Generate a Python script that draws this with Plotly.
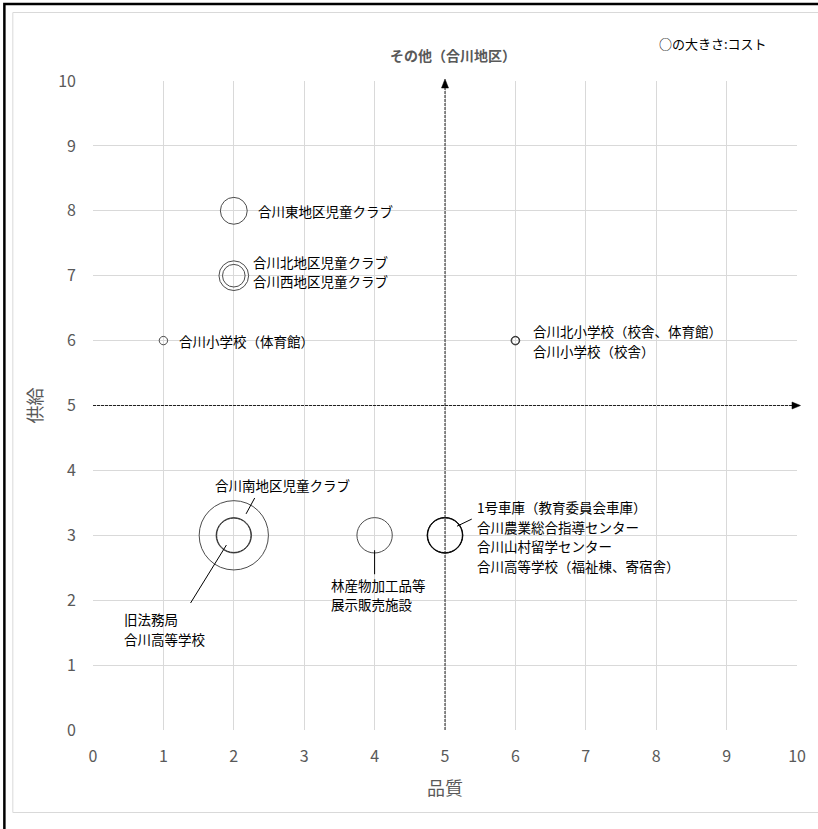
import plotly.graph_objects as go

# ---------------- data ----------------
facility = [
    "合川東地区児童クラブ", "合川北地区児童クラブ", "合川西地区児童クラブ",
    "合川小学校（体育館）", "合川北小学校（校舎、体育館）", "合川小学校（校舎）",
    "合川南地区児童クラブ", "旧法務局", "合川高等学校",
    "林産物加工品等展示販売施設", "1号車庫（教育委員会車庫）", "合川農業総合指導センター",
    "合川山村留学センター", "合川高等学校（福祉棟、寄宿舎）",
]
quality = [2, 2, 2, 1, 6, 6, 2, 2, 2, 4, 5, 5, 5, 5]
supply = [8, 7, 7, 6, 6, 6, 3, 3, 3, 3, 3, 3, 3, 3]
cost = [14.4, 17.6, 10.2, 1.4, 1.5, 1.2, 96, 25, 23.5, 25, 25.5, 25, 24, 25]

x_ticks = list(range(0, 11))
y_ticks = list(range(0, 11))
chart_title = "その他（合川地区）"
size_note = "○の大きさ:コスト"
x_title = "品質"
y_title = "供給"

FONT = "Noto Sans CJK JP"
GREY = "#595959"

W, H = 818, 829
L, R, T, B = 93, 800, 81, 730


def px(xp):
    return (xp - L) / (R - L)


def py(yp):
    return (B - yp) / (B - T)


fig = go.Figure()
fig.add_trace(go.Scatter(
    x=quality, y=supply, mode="markers", text=facility,
    hovertemplate="%{text}<br>品質 %{x}<br>供給 %{y}<extra></extra>",
    marker=dict(size=cost, sizemode="area", sizeref=0.04, sizemin=1,
                color="rgba(0,0,0,0)", line=dict(color="black", width=1)),
    cliponaxis=False, showlegend=False,
))

# ---------------- labels ----------------
labels = [
    (["合川東地区児童クラブ"], 2.32, 8.0, "left", 19),
    (["合川北地区児童クラブ", "合川西地区児童クラブ"], 2.25, 7.07, "left", 19),
    (["合川小学校（体育館）"], 1.2, 6.0, "left", 19),
    (["合川北小学校（校舎、体育館）", "合川小学校（校舎）"], 6.22, 6.0, "left", 20),
    (["合川南地区児童クラブ"], 2.70, 3.78, "center", 19),
    (["旧法務局", "合川高等学校"], 0.41, 1.56, "left", 19.5),
    (["林産物加工品等", "展示販売施設"], 3.35, 2.09, "left", 19.5),
    (["1号車庫（教育委員会車庫）", "合川農業総合指導センター",
      "合川山村留学センター", "合川高等学校（福祉棟、寄宿舎）"], 5.43, 2.98, "left", 19.7),
]
ann = []
for lines, lx, ly, anc, sp in labels:
    n = len(lines)
    for i, txt in enumerate(lines):
        ann.append(dict(text=txt, x=lx, y=ly, xref="x", yref="y", xanchor=anc,
                        yanchor="middle", align="left", showarrow=False,
                        yshift=(n - 1) / 2 * sp - i * sp,
                        font=dict(family=FONT, size=13.5, color="black")))

ann.append(dict(text=f"<b>{chart_title}</b>", x=px(455), y=py(55), xref="paper", yref="paper",
                xanchor="center", yanchor="middle", showarrow=False,
                font=dict(family=FONT, size=14, color=GREY)))
ann.append(dict(text=size_note, x=px(716), y=py(44), xref="paper", yref="paper",
                xanchor="center", yanchor="middle", showarrow=False,
                font=dict(family=FONT, size=13, color="black")))

# leader lines
leaders = [
    (2.174, 3.33, 2.297, 3.575),
    (1.386, 1.957, 1.895, 2.85),
    (4.0, 2.77, 4.0, 2.40),
    (5.17, 3.14, 5.38, 3.25),
]
shapes = []
for x0, y0, x1, y1 in leaders:
    shapes.append(dict(type="line", xref="x", yref="y", x0=x0, y0=y0, x1=x1, y1=y1,
                       line=dict(color="black", width=1)))

# quadrant arrows (dashed)
DASH = "3px,1px"
shapes.append(dict(type="line", xref="paper", yref="paper", x0=0.5, x1=0.5, y0=0, y1=py(86),
                   line=dict(color="#222222", width=1, dash=DASH)))
shapes.append(dict(type="line", xref="paper", yref="paper", x0=0, x1=px(796), y0=0.5, y1=0.5,
                   line=dict(color="#222222", width=1, dash=DASH)))
shapes.append(dict(type="path", xref="paper", yref="paper", xsizemode="pixel", ysizemode="pixel",
                   xanchor=0.5, yanchor=1.0, path="M -3.5,-7 L 3.5,-7 L 0,2 Z",
                   fillcolor="black", line=dict(color="black", width=0.5)))
shapes.append(dict(type="path", xref="paper", yref="paper", xsizemode="pixel", ysizemode="pixel",
                   xanchor=1.0, yanchor=0.5, path="M -5,-3.5 L -5,3.5 L 3.5,0 Z",
                   fillcolor="black", line=dict(color="black", width=0.5)))

# chart frames
shapes.append(dict(type="rect", xref="paper", yref="paper", x0=px(12.5), x1=px(840), y0=py(812.5),
                   y1=py(12.5), line=dict(color="#d9d9d9", width=1), layer="below"))
shapes.append(dict(type="path", xref="paper", yref="paper",
                   path=f"M {px(4)},{py(840)} L {px(4)},{py(4)} L {px(840)},{py(4)}",
                   line=dict(color="black", width=2.5)))

fig.update_layout(
    width=W, height=H,
    margin=dict(l=L, r=W - R, t=T, b=H - B, pad=0),
    paper_bgcolor="white", plot_bgcolor="white",
    font=dict(family=FONT, color=GREY),
    annotations=ann, shapes=shapes,
    xaxis=dict(range=[0, 10], tickvals=x_ticks, ticktext=[str(v) for v in x_ticks],
               showgrid=True, gridcolor="#d9d9d9", gridwidth=1, zeroline=False,
               showline=False, ticks="", tickfont=dict(family=FONT, size=16, color=GREY),
               ticklabelstandoff=15,
               title=dict(text=x_title, font=dict(family=FONT, size=18, color=GREY), standoff=16)),
    yaxis=dict(range=[0, 10], tickvals=y_ticks, ticktext=[str(v) for v in y_ticks],
               showgrid=True, gridcolor="#d9d9d9", gridwidth=1, zeroline=False,
               showline=False, ticks="", tickfont=dict(family=FONT, size=16, color=GREY),
               ticklabelstandoff=16,
               title=dict(text=y_title, font=dict(family=FONT, size=18, color=GREY), standoff=10)),
)

fig.write_html("out.html", config={"displayModeBar": False},
               post_script="document.body.style.margin='0';document.body.style.padding='0';")
